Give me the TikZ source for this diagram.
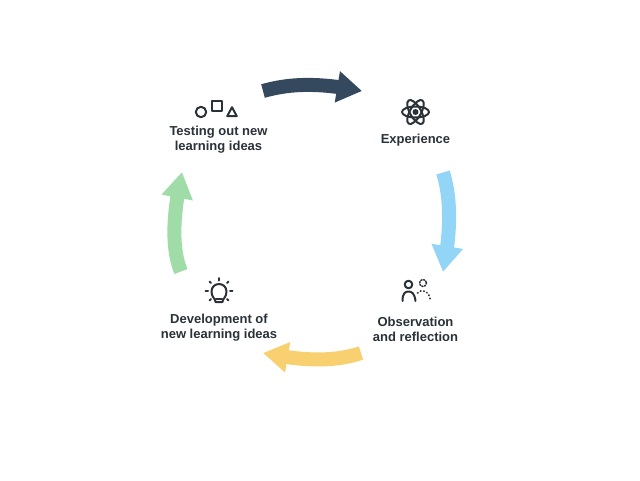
\documentclass[tikz,border=0pt]{standalone}
\usepackage{fontspec}
\setmainfont{Liberation Sans}
\usetikzlibrary{arrows.meta,bending}
\definecolor{inkc}{HTML}{2B3138}
\definecolor{darkc}{HTML}{34495E}
\definecolor{bluec}{HTML}{93D5F6}
\definecolor{yellowc}{HTML}{F8D06F}
\definecolor{greenc}{HTML}{A0DCA8}
\tikzset{
  label/.style={font=\bfseries\fontsize{13}{15}\selectfont,text=inkc,align=center,inner sep=0pt},
  flow/.style={line width=14pt,line cap=butt},
  icon/.style={draw=inkc,line width=2pt,line cap=round,line join=round}
}
\begin{document}
\begin{tikzpicture}[x=1pt,y=-1pt]
\useasboundingbox[fill=white] (0,0) rectangle (640,480);
\node[label] (testing) at (218.5,139.5) {Testing out new\\learning ideas};
\node[label] (experience) at (415.5,140.5) {Experience};
\node[label] (observation) at (415.5,329.5) {Observation\\and reflection};
\node[label] (development) at (219,327.5) {Development of\\new learning ideas};
\coordinate (d0) at (263,91);
\coordinate (d1) at (362,91);
\coordinate (b0) at (443,172.5);
\coordinate (b1) at (443,272);
\coordinate (y0) at (361,353);
\coordinate (y1) at (263,353);
\coordinate (g0) at (181,271.5);
\coordinate (g1) at (182,172);
\draw[flow,darkc,-{Triangle[length=25pt,width=30pt]}] (d0) .. controls (285,85) and (312,81) .. (d1);
\draw[flow,bluec,-{Triangle[length=26pt,width=30pt]}] (b0) .. controls (449,192) and (453,222) .. (b1);
\draw[flow,yellowc,-{Triangle[length=25pt,width=29pt]}] (y0) .. controls (340,360) and (312,363) .. (y1);
\draw[flow,greenc,-{Triangle[length=26pt,width=30pt]}] (g0) .. controls (172,250) and (172,218) .. (g1);
% shapes icon
\draw[icon] (201,112) circle (5.2);
\draw[icon] (212.2,101.2) rectangle (221.8,110.8);
\draw[icon] (227.2,116.2) -- (232,107.2) -- (236.8,116.2) -- cycle;
% atom icon
\draw[icon] (415.5,112) ellipse [x radius=13.5,y radius=5.5];
\draw[icon,rotate around={60:(415.5,112)}] (415.5,112) ellipse [x radius=13.5,y radius=5.5];
\draw[icon,rotate around={120:(415.5,112)}] (415.5,112) ellipse [x radius=13.5,y radius=5.5];
\fill[inkc] (415.5,112) circle (3);
% people icon
\draw[icon] (408.5,284.5) circle (3.8);
\draw[icon] (402.5,301) .. controls (402.5,293.5) and (405,291.5) .. (408.5,291.5) .. controls (412,291.5) and (414.5,293.5) .. (415.5,301);
\draw[icon,line width=1.6pt,dash pattern=on 1pt off 1.8pt] (423,283) circle (3.5);
\draw[icon,line width=1.7pt,dash pattern=on 0.6pt off 2.8pt] (417.5,293) .. controls (420,290.5) and (423,290) .. (425.5,291.5) .. controls (429,293.5) and (430,297) .. (430.5,301.5);
% bulb icon
\draw[icon] (215.5,302) .. controls (215.5,298.5) and (211.5,297.5) .. (211.5,291.5) .. controls (211.5,287) and (215,284) .. (219,284) .. controls (223,284) and (226.5,287) .. (226.5,291.5) .. controls (226.5,297.5) and (222.5,298.5) .. (222.5,302) -- cycle;
\draw[icon] (215.8,299) -- (222.2,299);
\draw[icon] (219,278) -- (219,280.5);
\draw[icon] (209.5,281.5) -- (211,283);
\draw[icon] (228.5,281.5) -- (227,283);
\draw[icon] (205.5,291) -- (208,291);
\draw[icon] (232.5,291) -- (230,291);
\draw[icon] (209.5,300.5) -- (211,299);
\draw[icon] (228.5,300.5) -- (227,299);
\end{tikzpicture}
\end{document}
